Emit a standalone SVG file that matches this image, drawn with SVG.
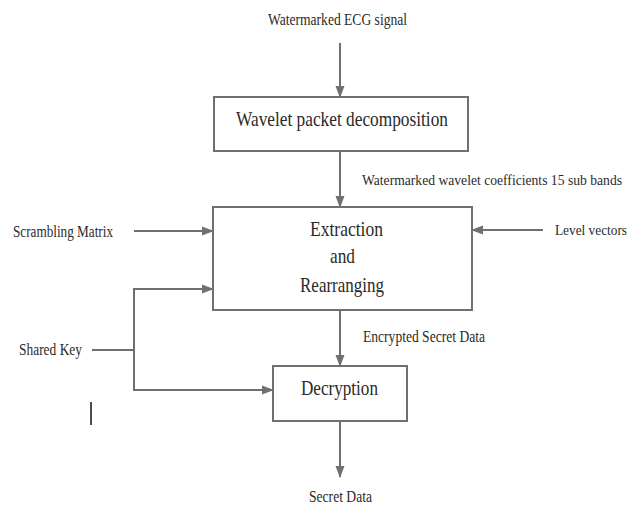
<svg xmlns="http://www.w3.org/2000/svg" width="632" height="506" viewBox="0 0 632 506">
<style>
.lbl{font-family:"Liberation Serif","Times New Roman",serif;font-size:16px;fill:#2a2a2a}
.sm{font-size:14px}
.ttl{font-family:"Liberation Serif","Times New Roman",serif;font-size:21px;fill:#2a2a2a}
.box{fill:#ffffff;stroke:#707070;stroke-width:2}
.con{fill:none;stroke:#707070;stroke-width:2}
</style>
<defs>
<marker id="ah" markerUnits="userSpaceOnUse" markerWidth="12" markerHeight="12" viewBox="0 0 12 12" refX="11" refY="6" orient="auto-start-reverse">
<path d="M0,1.5 L12,6 L0,10.5 Z" fill="#707070"/>
</marker>
</defs>
<rect width="632" height="506" fill="#ffffff"/>
<g id="connectors">
<line class="con" x1="340" y1="43" x2="340" y2="97" marker-end="url(#ah)"/>
<line class="con" x1="340" y1="151" x2="340" y2="207" marker-end="url(#ah)"/>
<line class="con" x1="134" y1="231" x2="213" y2="231" marker-end="url(#ah)"/>
<line class="con" x1="543" y1="230" x2="472" y2="230" marker-end="url(#ah)"/>
<line class="con" x1="92" y1="350" x2="134" y2="350"/>
<path class="con" d="M213,289 H134 V390 H273" marker-start="url(#ah)" marker-end="url(#ah)"/>
<line class="con" x1="340" y1="310" x2="340" y2="366" marker-end="url(#ah)"/>
<line class="con" x1="340" y1="421" x2="340" y2="477" marker-end="url(#ah)"/>
</g>
<g id="input-ecg"><text class="lbl" x="268" y="25" textLength="139" lengthAdjust="spacingAndGlyphs">Watermarked ECG signal</text></g>
<g id="wpd"><rect class="box" x="214" y="97" width="254" height="54"/><text class="ttl" x="236" y="126" textLength="212" lengthAdjust="spacingAndGlyphs">Wavelet packet decomposition</text></g>
<g id="coeffs"><text class="lbl sm" x="362" y="185" textLength="260" lengthAdjust="spacingAndGlyphs">Watermarked wavelet coefficients 15 sub bands</text></g>
<g id="scrambling"><text class="lbl" x="13" y="237" textLength="100" lengthAdjust="spacingAndGlyphs">Scrambling Matrix</text></g>
<g id="level"><text class="lbl sm" x="555" y="235" textLength="72" lengthAdjust="spacingAndGlyphs">Level vectors</text></g>
<g id="extraction"><rect class="box" x="213" y="207" width="259" height="103"/>
<text class="ttl" x="310" y="236" textLength="73" lengthAdjust="spacingAndGlyphs">Extraction</text>
<text class="ttl" x="330" y="263" textLength="25" lengthAdjust="spacingAndGlyphs">and</text>
<text class="ttl" x="300" y="292" textLength="84" lengthAdjust="spacingAndGlyphs">Rearranging</text></g>
<g id="sharedkey"><text class="lbl" x="19" y="355" textLength="63" lengthAdjust="spacingAndGlyphs">Shared Key</text></g>
<g id="encrypted"><text class="lbl" x="363" y="342" textLength="122" lengthAdjust="spacingAndGlyphs">Encrypted Secret Data</text></g>
<g id="decryption"><rect class="box" x="273" y="366" width="134" height="55"/><text class="ttl" x="301" y="395" textLength="77" lengthAdjust="spacingAndGlyphs">Decryption</text></g>
<g id="secret"><text class="lbl" x="309" y="502" textLength="63" lengthAdjust="spacingAndGlyphs">Secret Data</text></g>
<line x1="91" y1="402" x2="91" y2="425" stroke="#111111" stroke-width="1.5"/>
</svg>
